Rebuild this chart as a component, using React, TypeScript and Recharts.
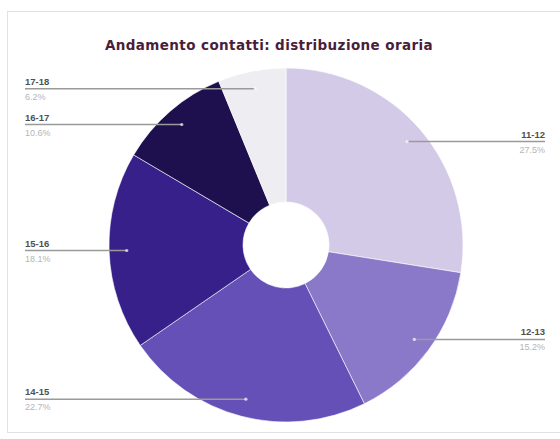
import { PieChart, Pie, Cell } from "recharts";

// fasce orarie (in senso orario dalle 12)
const fasce = ["11-12", "12-13", "14-15", "15-16", "16-17", "17-18"];
const quote = [27.5, 15.2, 22.7, 18.1, 10.3, 6.2];
const etichette = ["27.5%", "15.2%", "22.7%", "18.1%", "10.6%", "6.2%"];
const colori = ["#d3cae8", "#8a78c8", "#6450b6", "#37208a", "#1e0f4f", "#ededf2"];

const data = fasce.map((f, i) => ({ name: f, value: quote[i], pct: etichette[i] }));

const RAD = Math.PI / 180;

// etichetta con linea orizzontale fino al bordo
const renderLabel = (props: any) => {
  const { cx, cy, midAngle, outerRadius, index } = props;
  const r = outerRadius * 0.9;
  const x = cx + r * Math.cos(-midAngle * RAD);
  const y = cy + r * Math.sin(-midAngle * RAD);
  const right = x > cx;
  const xEnd = right ? 545 : 25;
  const row = data[index];
  return (
    <g key={`lab-${index}`}>
      <line x1={x} y1={y} x2={xEnd} y2={y} stroke="#9a9a9a" strokeWidth={1.5} />
      <circle cx={x} cy={y} r={1.6} fill="#ffffff" fillOpacity={0.7} />
      <text
        x={xEnd}
        y={y - 4}
        textAnchor={right ? "end" : "start"}
        fontSize={9.5}
        fontWeight="bold"
        fill="#505050"
        fontFamily="Liberation Sans, Arial, sans-serif"
      >
        {row.name}
      </text>
      <text
        x={xEnd}
        y={y + 11}
        textAnchor={right ? "end" : "start"}
        fontSize={9}
        fill="#b5b5b5"
        fontFamily="Liberation Sans, Arial, sans-serif"
      >
        {row.pct}
      </text>
    </g>
  );
};

export default function App() {
  return (
    <div style={{ position: "absolute", left: 0, top: 0, width: 560, height: 439, background: "#fff" }}>
      <div
        style={{
          position: "absolute",
          left: 7,
          top: 11,
          width: 560,
          height: 422,
          border: "1px solid #e2e2e2",
          boxSizing: "border-box",
        }}
      />
      <div
        style={{
          position: "absolute",
          left: 0,
          top: 37,
          width: 538,
          textAlign: "center",
          fontFamily: "DejaVu Sans, Verdana, sans-serif",
          fontWeight: "bold",
          fontSize: 13.5,
          letterSpacing: 0.4,
          color: "#4a1d3c",
        }}
      >
        Andamento contatti: distribuzione oraria
      </div>
      <div style={{ position: "absolute", left: 0, top: 0 }}>
        <PieChart width={560} height={439} margin={{ top: 0, right: 0, bottom: 0, left: 0 }}>
          <Pie
            data={data}
            dataKey="value"
            cx={286}
            cy={245}
            innerRadius={43}
            outerRadius={177}
            startAngle={90}
            endAngle={-270}
            stroke="#ffffff"
            strokeWidth={0.6}
            label={renderLabel}
            labelLine={false}
            isAnimationActive={false}
          >
            {data.map((d, i) => (
              <Cell key={d.name} fill={colori[i]} />
            ))}
          </Pie>
        </PieChart>
      </div>
    </div>
  );
}
